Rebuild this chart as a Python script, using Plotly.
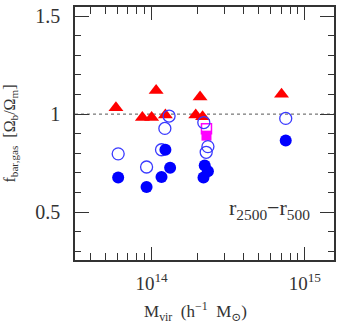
import plotly.graph_objects as go

# Red triangles
tri_m = [5.85e13, 8.7e13, 1.0e14, 1.07e14, 1.23e14, 1.94e14, 2.07e14, 2.15e14, 7.04e14]
tri_f = [1.033, 0.983, 0.983, 1.12, 0.995, 0.995, 1.088, 0.986, 1.101]

# Open blue circles
open_m = [6.05e13, 9.27e13, 1.16e14, 1.22e14, 1.30e14, 2.19e14, 2.33e14, 2.27e14, 7.5e14]
open_f = [0.797, 0.73, 0.818, 0.927, 0.99, 0.957, 0.834, 0.805, 0.978]

# Filled blue circles
fill_m = [6.05e13, 9.27e13, 1.16e14, 1.23e14, 1.32e14, 2.22e14, 2.33e14, 2.18e14, 7.5e14]
fill_f = [0.676, 0.628, 0.679, 0.818, 0.726, 0.738, 0.708, 0.676, 0.865]

# Magenta squares
sq_open_m = [2.28e14]
sq_open_f = [0.925]
sq_fill_m = [2.28e14]
sq_fill_f = [0.89]

xrange_log = [13.5, 15.19]
yrange = [0.255, 1.547]

SERIF = "Liberation Serif, DejaVu Serif, serif"
INK = "#333333"

fig = go.Figure()
fig.add_trace(go.Scatter(x=[10**xrange_log[0], 10**xrange_log[1]], y=[1, 1], mode="lines",
                         line=dict(color="#555555", width=1, dash="dot"), hoverinfo="skip"))
fig.add_trace(go.Scatter(x=tri_m, y=tri_f, mode="markers",
                         marker=dict(symbol="triangle-up", size=13, color="#ff0000", line=dict(width=0))))
fig.add_trace(go.Scatter(x=sq_open_m, y=sq_open_f, mode="markers",
                         marker=dict(symbol="square-open", size=10, color="#ff00ff", line=dict(width=1.5))))
fig.add_trace(go.Scatter(x=sq_fill_m, y=sq_fill_f, mode="markers",
                         marker=dict(symbol="square", size=10, color="#ff00ff", line=dict(width=0))))
fig.add_trace(go.Scatter(x=open_m, y=open_f, mode="markers",
                         marker=dict(symbol="circle-open", size=12, color="#3a3aff", line=dict(width=1.3))))
fig.add_trace(go.Scatter(x=fill_m, y=fill_f, mode="markers",
                         marker=dict(symbol="circle", size=12, color="#0000ff", line=dict(width=0))))

fig.update_layout(
    width=354, height=327,
    margin=dict(l=75, r=20, t=5, b=67),
    paper_bgcolor="white", plot_bgcolor="white",
    showlegend=False,
    font=dict(family=SERIF, color=INK),
    xaxis=dict(type="log", range=xrange_log,
               tickvals=[1e14, 1e15], ticktext=["10<sup>14</sup>", "10<sup>15</sup>"],
               ticks="inside", ticklen=13, tickwidth=1, tickcolor=INK,
               minor=dict(ticks="inside", ticklen=7, tickwidth=1, tickcolor=INK,
                          tickvals=[4e13, 5e13, 6e13, 7e13, 8e13, 9e13,
                                    2e14, 3e14, 4e14, 5e14, 6e14, 7e14, 8e14, 9e14]),
               showline=True, linecolor=INK, linewidth=1.5, mirror="ticks",
               showgrid=False, zeroline=False,
               tickfont=dict(size=19, family=SERIF, color=INK),
               ticklabelstandoff=5),
    yaxis=dict(range=yrange,
               tickvals=[0.5, 1.0, 1.5], ticktext=["0.5", "1", "1.5"],
               ticks="inside", ticklen=14, tickwidth=1, tickcolor=INK,
               minor=dict(ticks="inside", ticklen=6, tickwidth=1, tickcolor=INK,
                          tickvals=[0.3, 0.4, 0.6, 0.7, 0.8, 0.9, 1.1, 1.2, 1.3, 1.4]),
               showline=True, linecolor=INK, linewidth=1.5, mirror="ticks",
               showgrid=False, zeroline=False,
               tickfont=dict(size=20, family=SERIF, color=INK),
               ticklabelstandoff=9,
               title=dict(text="f<sub>bar,gas</sub>  [Ω<sub>b</sub>/Ω<sub>m</sub>]",
                          font=dict(size=16, family=SERIF, color=INK), standoff=16)),
    annotations=[
        dict(text="r<sub>2500</sub>−r<sub>500</sub>", xref="paper", yref="paper",
             x=0.915, y=0.2, xanchor="right", yanchor="middle", showarrow=False,
             font=dict(size=22, family=SERIF, color=INK)),
        dict(text="M<sub>vir</sub>  (h<sup>−1</sup>  M<sub>⊙</sub>)", xref="paper", yref="paper",
             x=0.259, y=-0.204, xanchor="left", yanchor="middle", showarrow=False,
             font=dict(size=17, family=SERIF, color=INK)),
    ],
)

fig.write_html("out.html", config={"displayModeBar": False},
               post_script="document.body.style.margin='0';document.documentElement.style.overflow='hidden';")
